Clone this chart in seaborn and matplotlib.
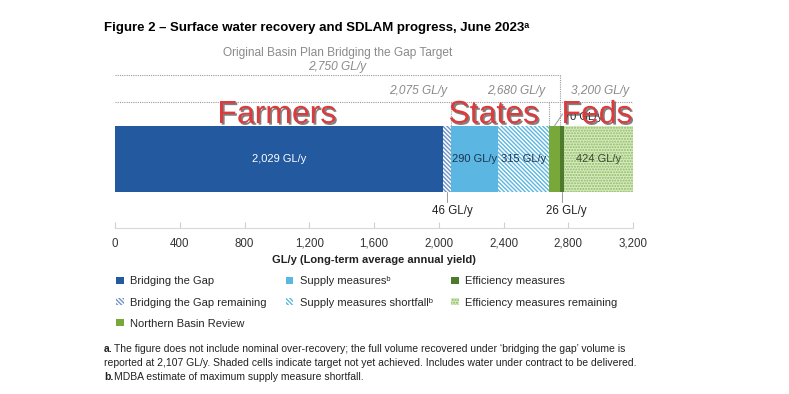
import matplotlib
matplotlib.use("Agg")

import matplotlib.pyplot as plt
import matplotlib.patheffects as pe
from matplotlib.patches import Patch
import seaborn as sns


# Segment data (GL/y), left to right along the bar
segments = [
    "Bridging the Gap",
    "Bridging the Gap remaining",
    "Supply measures",
    "Supply measures shortfall",
    "Northern Basin Review",
    "Efficiency measures",
    "Efficiency measures remaining",
]
volumes = [2029, 46, 290, 315, 70, 26, 424]

legend_labels = [
    "Bridging the Gap",
    "Bridging the Gap remaining",
    "Supply measures\u1d47",
    "Supply measures shortfall\u1d47",
    "Northern Basin Review",
    "Efficiency measures",
    "Efficiency measures remaining",
]

# Targets shown as dotted brackets
btg_target = 2750
farmers_target = 2075
states_target = 2680
feds_target = 3200

x_ticks = [0, 400, 800, 1200, 1600, 2000, 2400, 2800, 3200]

# Styling per segment
face_colors = ["#23599f", "white", "#5bb6e2", "white", "#78a83a", "#4e7a2c", "#d8eac4"]
hatch_colors = ["#23599f", "#6f93c8", "#5bb6e2", "#5bb6e2", "#78a83a", "#4e7a2c", "#8cbc5c"]
hatches = [None, "\\\\\\\\\\\\\\\\", None, "\\\\\\\\\\\\\\\\", None, None, "......"]


sns.set_theme(style="white")
plt.rcParams["font.family"] = ["Liberation Sans", "DejaVu Sans"]
plt.rcParams["hatch.linewidth"] = 1.0

fig = plt.figure(figsize=(7.89, 3.94), dpi=100)

# Axes placed in pixel terms of the 789x394 canvas
ax = fig.add_axes([115 / 789, (394 - 228) / 394, 518 / 789, 188 / 394])


def py(p):
    # pixel row -> data y (bar spans -0.5..0.5)
    return (p - 159) / 66


# Cumulative ends, drawn largest first so each bar overlays the previous
ends = []
total = 0
for v in volumes:
    total += v
    ends.append(total)
starts = [e - v for e, v in zip(ends, volumes)]

for i in reversed(range(len(segments))):
    sns.barplot(
        x=[ends[i]],
        y=["recovery"],
        orient="y",
        color=face_colors[i],
        saturation=1,
        width=1,
        ax=ax,
    )
    bar = ax.patches[-1]
    bar.set_facecolor(face_colors[i])
    bar.set_edgecolor(hatch_colors[i])
    bar.set_linewidth(0)
    if hatches[i]:
        bar.set_hatch(hatches[i])

ax.set_xlim(0, 3200)
ax.set_ylim(py(228), py(40))
ax.set_xticks(x_ticks)
ax.set_xticklabels([f"{t:,}" for t in x_ticks], fontsize=8.3, color="#333333")
ax.set_yticks([])
ax.set_ylabel("")
ax.set_xlabel(
    "GL/y (Long-term average annual yield)",
    fontsize=8,
    fontweight="bold",
    color="#222222",
    labelpad=4,
)
ax.tick_params(axis="x", direction="in", length=4, width=0.8,
               color="#d0d0d0", pad=7, bottom=True)
for side in ["top", "right", "left"]:
    ax.spines[side].set_visible(False)
ax.spines["bottom"].set_color("#d9d9d9")
ax.spines["bottom"].set_linewidth(0.8)


# Values inside the bar
mid = [s + v / 2 for s, v in zip(starts, volumes)]
ax.text(mid[0], 0, f"{volumes[0]:,} GL/y", ha="center", va="center",
        fontsize=8, color="white")
ax.text(mid[2], 0, f"{volumes[2]} GL/y", ha="center", va="center",
        fontsize=8, color="#1c3553")
ax.text(mid[3], 0, f"{volumes[3]} GL/y", ha="center", va="center",
        fontsize=8, color="#1c3553")
ax.text(mid[6], 0, f"{volumes[6]} GL/y", ha="center", va="center",
        fontsize=8, color="#3a4a30")

# Small segments labelled below / above with leader lines
ax.plot([mid[1], mid[1]], [0.5, py(202)], color="#999999", lw=0.7)
ax.text(mid[1] + 35, py(211), f"{volumes[1]} GL/y", ha="center",
        va="center", fontsize=8.3, color="#222222")
ax.plot([mid[5], mid[5]], [0.5, py(202)], color="#999999", lw=0.7)
ax.text(mid[5] + 25, py(211), f"{volumes[5]} GL/y", ha="center",
        va="center", fontsize=8.3, color="#222222")
ax.plot([mid[4], mid[4] + 50], [-0.5, py(114)], color="#999999", lw=0.7)
ax.text(mid[4] + 60, py(117), f"{volumes[4]} GL/y", ha="left",
        va="center", fontsize=8, color="#222222")

# Dotted target brackets
dot = dict(color="#9a9a9a", lw=0.8, ls=(0, (1, 1)))
ax.plot([0, btg_target], [py(75), py(75)], **dot)
ax.plot([btg_target, btg_target], [py(75), -0.5], **dot)
ax.plot([0, feds_target], [py(102), py(102)], **dot)
for t in [farmers_target, states_target, feds_target]:
    ax.plot([t, t], [py(102), -0.5], **dot)

gray = "#8a8a8a"
ax.text(btg_target / 2, py(53), "Original Basin Plan Bridging the Gap Target",
        ha="center", va="center", fontsize=8.6, color=gray)
ax.text(btg_target / 2, py(67), f"{btg_target:,} GL/y", ha="center",
        va="center", fontsize=8.6, color=gray, style="italic")
for t in [farmers_target, states_target, feds_target]:
    ax.text(t - 25, py(91), f"{t:,} GL/y", ha="right", va="center",
            fontsize=8.6, color=gray, style="italic")

# Big red overlay labels
shadow = [pe.withSimplePatchShadow(offset=(1.2, -1.2),
                                   shadow_rgbFace="#4a4a4a", alpha=0.7)]
for name, xpos in [("Farmers", 1000), ("States", 2340), ("Feds", 2977)]:
    ax.text(xpos, py(115), name, ha="center", va="center", fontsize=23,
            color="#dc3b3e", path_effects=shadow, zorder=10)

# Title
fig.text(104 / 789, 1 - 28 / 394,
         "Figure 2 \u2013 Surface water recovery and SDLAM progress, June 2023\u1d43",
         ha="left", va="center", fontsize=9.5, fontweight="bold", color="black")

# Legend
order = [0, 1, 4, 2, 3, 5, 6]
handles = []
for i in order:
    handles.append(Patch(facecolor=face_colors[i], edgecolor=hatch_colors[i],
                         hatch=hatches[i], linewidth=0,
                         label=legend_labels[i]))
fig.legend(
    handles=handles,
    loc="upper left",
    bbox_to_anchor=(112 / 789, 1 - 272 / 394),
    ncol=3,
    frameon=False,
    fontsize=8,
    handlelength=0.65,
    handleheight=0.65,
    handletextpad=0.6,
    columnspacing=1.7,
    labelspacing=1.0,
    borderaxespad=0,
)

# Footnotes
foot = dict(fontsize=7.5, color="#222222", va="center", ha="left")
fig.text(104 / 789, 1 - 349 / 394, "a.", fontweight="bold", **foot)
fig.text(114 / 789, 1 - 349 / 394,
         "The figure does not include nominal over-recovery; the full volume "
         "recovered under \u2018bridging the gap\u2019 volume is", **foot)
fig.text(104 / 789, 1 - 363 / 394,
         "reported at 2,107 GL/y. Shaded cells indicate target not yet achieved. "
         "Includes water under contract to be delivered.", **foot)
fig.text(104 / 789, 1 - 377 / 394, "b.", fontweight="bold", **foot)
fig.text(114 / 789, 1 - 377 / 394,
         "MDBA estimate of maximum supply measure shortfall.", **foot)

fig.savefig("out.png", dpi=100)
plt.close(fig)
